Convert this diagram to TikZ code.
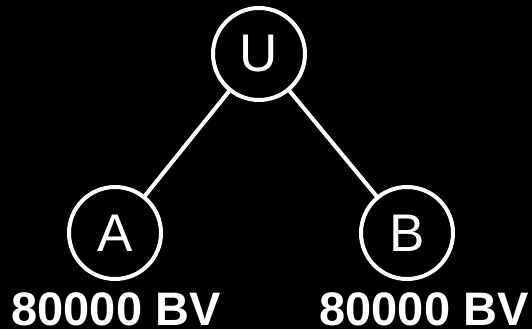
\documentclass[tikz,border=0pt]{standalone}
\usepackage{fontspec}
\setmainfont{Liberation Sans}
\begin{document}
\begin{tikzpicture}[x=1pt, y=-1pt, white, line width=4pt, line cap=round,
	vertex/.style={draw, circle, minimum size=92pt, inner sep=0pt, font=\fontsize{53}{53}\selectfont},
	score/.style={anchor=base, inner sep=0pt, font=\fontsize{47}{47}\selectfont\bfseries}]
	\fill[black] (0,0) rectangle (532,329);
	\useasboundingbox (0,0) rectangle (532,329);
	\node[vertex] (U) at (259,54) {U};
	\node[vertex] (A) at (115,233) {A};
	\node[vertex] (B) at (407,233) {B};
	\draw (U)--(A) (U)--(B);
	\foreach \v/\x in {A/116, B/424}{
		\node[score] (\v-score) at (\x,325) {80000 BV};}
\end{tikzpicture}
\end{document}
